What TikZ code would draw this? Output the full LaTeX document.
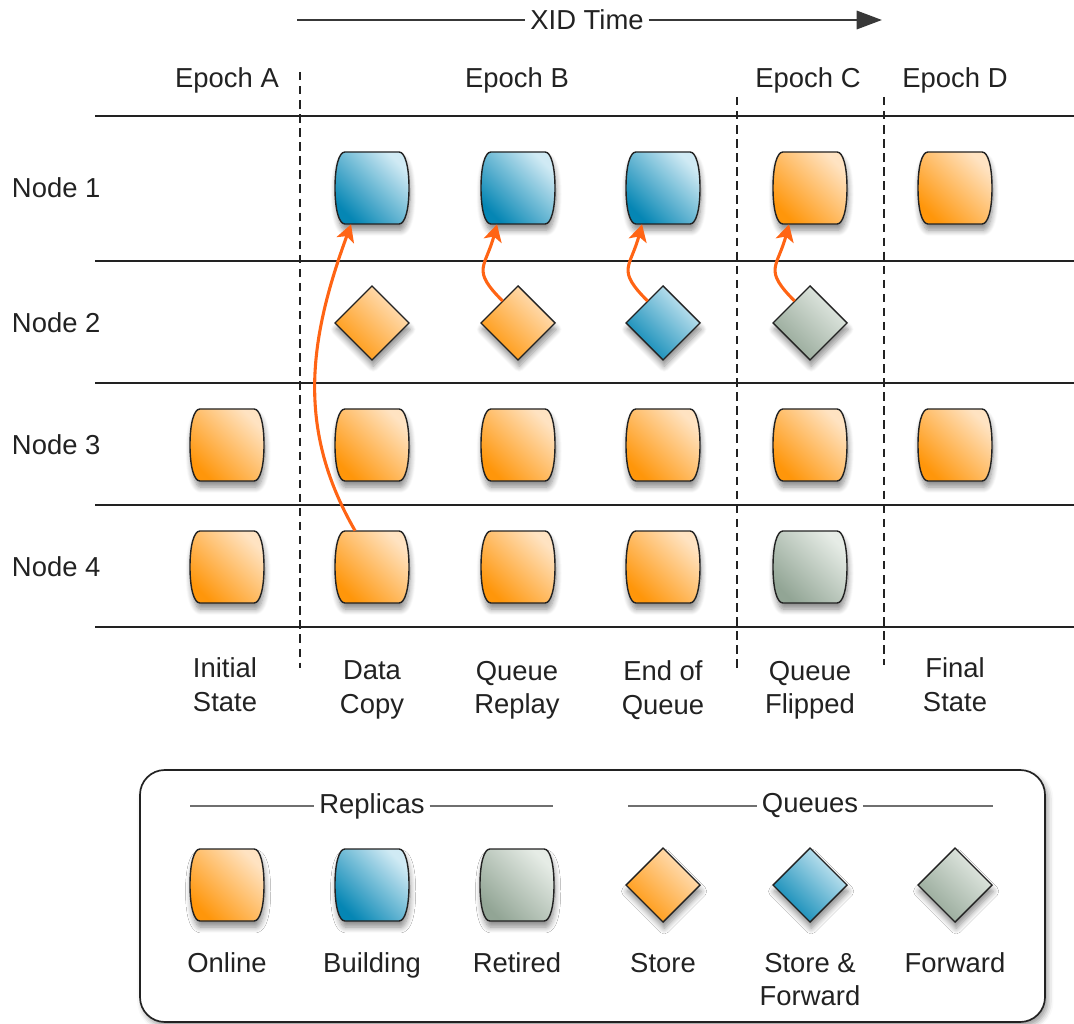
\documentclass[tikz,border=0pt]{standalone}
\usepackage{fontspec}
\setmainfont{Liberation Sans}
\usetikzlibrary{arrows.meta,shapes.geometric,shadows.blur}

\definecolor{ordark}{HTML}{FF960A}
\definecolor{orlight}{HTML}{FFE3C2}
\definecolor{bldark}{HTML}{0586B4}
\definecolor{bllight}{HTML}{D0EAF4}
\definecolor{grdark}{HTML}{92A595}
\definecolor{grlight}{HTML}{E6ECE6}
\definecolor{ink}{HTML}{222222}
\definecolor{flowc}{HTML}{FF6414}

\tikzset{
  cellshadow/.style={blur shadow={shadow xshift=0.8pt,shadow yshift=-4.5pt,shadow blur radius=4pt,shadow blur steps=8,shadow opacity=45}},
  cellfill/.style={top color=#1light,bottom color=#1dark,shading angle=-45,draw=ink,line width=1pt,cellshadow},
  cellbox/.style={minimum width=1.85cm,minimum height=1.8cm,inner sep=0pt},
  qbox/.style={shape=diamond,minimum width=1.85cm,minimum height=1.85cm,inner sep=0pt},
  pics/replica/.style={code={
    \path[cellfill=#1] (-27,36) -- (27,36) .. controls (33,36) and (37,22) .. (37,0)
      .. controls (37,-22) and (33,-36) .. (27,-36) -- (-27,-36)
      .. controls (-33,-36) and (-37,-22) .. (-37,0)
      .. controls (-37,22) and (-33,36) .. (-27,36) -- cycle;
    \node[cellbox] (-c) {};
  }},
  pics/queue/.style={code={
    \path[cellfill=#1] (0,37) -- (37,0) -- (0,-37) -- (-37,0) -- cycle;
    \node[qbox] (-c) {};
  }},
  rule/.style={ink,line width=1pt},
  sep/.style={ink,line width=1pt,dash pattern=on 6pt off 4pt},
  flow/.style={flowc,line width=2.2pt,-{Stealth[length=12pt,width=13pt,inset=3pt]}},
  lab/.style={text=ink},
  rowlab/.style={text=ink,anchor=west},
  steplab/.style={text=ink,align=center,anchor=north},
  leglab/.style={text=ink,align=center,anchor=north},
  legline/.style={ink!65,line width=1.2pt},
  legbox/.style={draw=ink,line width=1.2pt,fill=white,rounded corners=0.62cm,
    blur shadow={shadow xshift=2pt,shadow yshift=-3pt,shadow blur radius=4pt,shadow opacity=40}},
}

\begin{document}
\begin{tikzpicture}[x=0.025cm,y=0.025cm,font=\fontsize{19.5}{24}\selectfont]
  \useasboundingbox (0,0) rectangle (1074,-1024);

  % time arrow
  \node[lab] (xid) at (587,-20) {XID Time};
  \coordinate (tbeg) at (297,-20);
  \coordinate (tend) at (882,-20);
  \draw[ink!90,line width=1.7pt] (tbeg) -- (xid.west);
  \draw[ink!90,line width=1.7pt,-{Triangle[length=18pt,width=13pt]}] (xid.east) -- (tend);

  % epochs
  \node[lab] (epa) at (227,-80) {Epoch A};
  \node[lab] (epb) at (517,-80) {Epoch B};
  \node[lab] (epc) at (808,-80) {Epoch C};
  \node[lab] (epd) at (955,-80) {Epoch D};

  % grid
  \foreach \y in {116,261,383,505,627}
    \draw[rule] (95,-\y) -- (1074,-\y);
  \draw[sep] (300,-72) -- (300,-668);
  \draw[sep] (737,-97) -- (737,-668);
  \draw[sep] (884,-97) -- (884,-665);

  % rows
  \node[rowlab] (row1) at (7,-188) {Node 1};
  \node[rowlab] (row2) at (7,-323) {Node 2};
  \node[rowlab] (row3) at (7,-445) {Node 3};
  \node[rowlab] (row4) at (7,-567) {Node 4};

  % node 1
  \foreach \c/\x in {dc/372,qr/518,eq/663}
    \pic (r1\c) at (\x,-188) {replica=bl};
  \pic (r1qf) at (810,-188) {replica=or};
  \pic (r1fs) at (955,-188) {replica=or};
  % node 2
  \pic (q2dc) at (372,-323) {queue=or};
  \pic (q2qr) at (518,-323) {queue=or};
  \pic (q2eq) at (663,-323) {queue=bl};
  \pic (q2qf) at (810,-323) {queue=gr};
  % node 3
  \foreach \c/\x in {a/227,dc/372,qr/518,eq/663,qf/810,fs/955}
    \pic (r3\c) at (\x,-445) {replica=or};
  % node 4
  \foreach \c/\x in {a/227,dc/372,qr/518,eq/663}
    \pic (r4\c) at (\x,-567) {replica=or};
  \pic (r4qf) at (810,-567) {replica=gr};

  % data flow
  \draw[flow] (r4dc-c.115) to[out=120,in=-110] (r1dc-c.240);
  \foreach \c in {qr,eq,qf}
    \draw[flow] (q2\c-c.125) to[out=135,in=-105,looseness=1.5] (r1\c-c.240);

  % steps
  \node[steplab] (s1) at (225,-653) {Initial\\State};
  \node[steplab] (s2) at (372,-656) {Data\\Copy};
  \node[steplab] (s3) at (517,-656) {Queue\\Replay};
  \node[steplab] (s4) at (663,-656) {End of\\Queue};
  \node[steplab] (s5) at (810,-656) {Queue\\Flipped};
  \node[steplab] (s6) at (955,-653) {Final\\State};

  % legend
  \path[legbox] (140,-770) rectangle (1045,-1022);
  \node[lab] (repl) at (372,-806) {Replicas};
  \node[lab] (ques) at (810,-806) {Queues};
  \coordinate (rl) at (190,-806);
  \coordinate (rr) at (553,-806);
  \coordinate (ql) at (628,-806);
  \coordinate (qr) at (993,-806);
  \draw[legline] (rl) -- (repl.west);
  \draw[legline] (repl.east) -- (rr);
  \draw[legline] (ql) -- (ques.west);
  \draw[legline] (ques.east) -- (qr);

  \pic (lon) at (227,-885) {replica=or};
  \pic (lbu) at (372,-885) {replica=bl};
  \pic (lre) at (517,-885) {replica=gr};
  \pic (lst) at (663,-885) {queue=or};
  \pic (lsf) at (810,-885) {queue=bl};
  \pic (lfw) at (955,-885) {queue=gr};

  \node[leglab] (ton) at (227,-948) {Online};
  \node[leglab] (tbu) at (372,-948) {Building};
  \node[leglab] (tre) at (517,-948) {Retired};
  \node[leglab] (tst) at (663,-948) {Store};
  \node[leglab] (tsf) at (810,-948) {Store \&\\Forward};
  \node[leglab] (tfw) at (955,-948) {Forward};
\end{tikzpicture}
\end{document}
